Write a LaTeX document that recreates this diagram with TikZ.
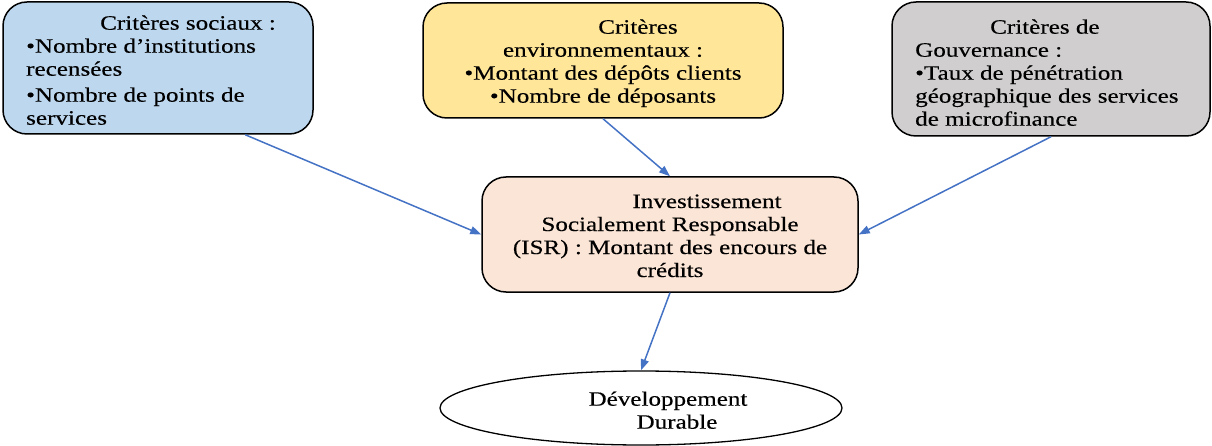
\documentclass[tikz,border=0pt]{standalone}
\usepackage{fontspec}
\setmainfont{Liberation Serif}[FakeStretch=1.23,FakeBold=0.3]
\usetikzlibrary{arrows.meta,shapes.geometric,calc}
\definecolor{socfill}{HTML}{BDD7EE}
\definecolor{envfill}{HTML}{FFE699}
\definecolor{govfill}{HTML}{D0CECE}
\definecolor{isrfill}{HTML}{FBE5D6}
\definecolor{linkblue}{HTML}{4472C4}
\begin{document}
\begin{tikzpicture}[x=1pt,y=-1pt,
  crit/.style={draw=black, line width=1.5pt, rounded corners=24pt, inner sep=0pt},
  txt/.style={inner sep=0pt, font=\fontsize{20.4}{23}\selectfont},
  link/.style={draw=linkblue, line width=1.5pt, -{Triangle[length=11pt,width=8pt]}}]
\useasboundingbox (0,0) rectangle (1212,446);

% criteria boxes
\node[crit, fill=socfill, minimum width=310pt, minimum height=132pt] (soc) at (158,68) {};
\node[crit, fill=envfill, minimum width=360pt, minimum height=115pt] (env) at (603,60.5) {};
\node[crit, fill=govfill, minimum width=318pt, minimum height=134pt] (gov) at (1051,69) {};
\node[crit, fill=isrfill, minimum width=376pt, minimum height=115pt] (isr) at (670,234.5) {};
\node[draw=black, ellipse, line width=1.3pt, minimum width=402pt, minimum height=74pt, inner sep=0pt] (dd) at (641,408) {};

% texts
\node[txt, align=left, anchor=north west] (socT) at (26,15.3)
  {\hspace*{74pt}Critères sociaux :\\•Nombre d’institutions\\recensées\\[3pt]•Nombre de points de\\services};
\node[txt, align=center, anchor=north] (envT) at (603,19.3)
  {\hspace*{70pt}Critères\\environnementaux :\\•Montant des dépôts clients\\•Nombre de déposants};
\node[txt, align=left, anchor=north west] (govT) at (915,19.3)
  {\hspace*{75pt}Critères de\\Gouvernance :\\•Taux de pénétration\\géographique des services\\de microfinance};
\node[txt, align=center, anchor=north] (isrT) at (670,194.3)
  {\hspace*{74pt}Investissement\\Socialement Responsable\\(ISR) : Montant des encours de\\crédits};
\node[txt, align=center, anchor=north] (ddT) at (668,391.3)
  {Développement\\\hspace*{18pt}Durable};

% connectors
\draw[link] ($(soc.south west)!0.78!(soc.south east)$) -- (isr.west);
\draw[link] (env.south) -- (isr.north);
\draw[link] (gov.south) -- (isr.east);
\draw[link] (isr.south) -- (dd.north);
\end{tikzpicture}
\end{document}
